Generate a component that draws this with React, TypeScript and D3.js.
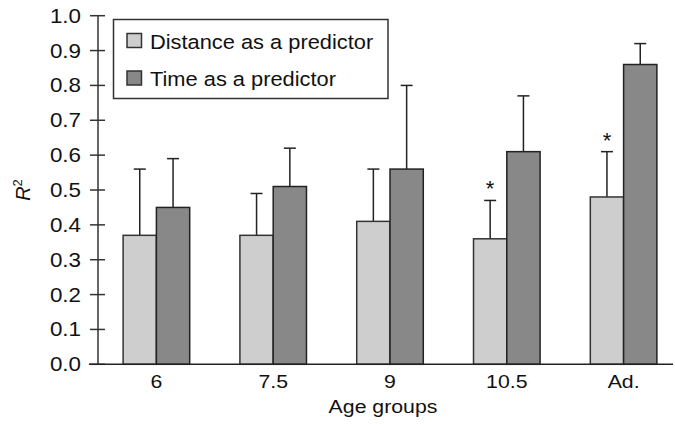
import React from 'react';
import * as d3 from 'd3';

const groups = ['6', '7.5', '9', '10.5', 'Ad.'];
const distance = [0.37, 0.37, 0.41, 0.36, 0.48];
const distanceErr = [0.56, 0.49, 0.56, 0.47, 0.61];
const time = [0.45, 0.51, 0.56, 0.61, 0.86];
const timeErr = [0.59, 0.62, 0.80, 0.77, 0.92];
const starred = [false, false, false, true, true];
const yTicks = [0, 0.1, 0.2, 0.3, 0.4, 0.5, 0.6, 0.7, 0.8, 0.9, 1.0];
const seriesNames = ['Distance as a predictor', 'Time as a predictor'];

const W = 675;
const H = 424;
const FONT = 'Arial, "Liberation Sans", Helvetica, sans-serif';
const LIGHT = '#cecece';
const DARK = '#888888';
const INK = '#222';
const SX = 1.12; // source text is a little wider than Arial

const Txt = ({ x, y, anchor = 'start', size = 19, children }: any) => (
  <text
    transform={`translate(${x},${y}) scale(${SX},1)`}
    textAnchor={anchor}
    fontSize={size}
    fontFamily={FONT}
    fill="#111"
  >
    {children}
  </text>
);

export default function App() {
  const x = d3.scaleBand().domain(groups).range([98, 682]).paddingInner(0.43).paddingOuter(0.215);
  const y = d3.scaleLinear().domain([0, 1]).range([364.3, 15.7]);
  const bw = x.bandwidth() / 2;
  const cap = 6;

  const errBar = (cx: number, top: number, key: string) => (
    <g key={key} stroke={INK} strokeWidth={1.5}>
      <line x1={cx} x2={cx} y1={y(top)} y2={y(0) - 1} />
      <line x1={cx - cap} x2={cx + cap} y1={y(top)} y2={y(top)} />
    </g>
  );

  return (
    <svg width={W} height={H} style={{ position: 'absolute', left: 0, top: 0 }}>
      <rect width={W} height={H} fill="#fff" />

      {/* y axis */}
      <line x1={98} x2={98} y1={y(1)} y2={y(0)} stroke="#333" strokeWidth={1.5} />
      {yTicks.map(t => (
        <g key={t}>
          <line x1={90} x2={105} y1={y(t)} y2={y(t)} stroke="#333" strokeWidth={1.5} />
          <Txt x={81} y={y(t) + 7} anchor="end" size={20}>{t.toFixed(1)}</Txt>
        </g>
      ))}
      <text
        transform={`translate(30,190) rotate(-90)`}
        textAnchor="middle"
        fontSize={20}
        fontFamily={FONT}
        fill="#111"
      >
        <tspan fontStyle="italic">R</tspan>
        <tspan fontSize={13} dy={-8}>2</tspan>
      </text>

      {/* error bars behind bars */}
      {groups.map((g, i) => errBar(x(g)! + bw / 2, distanceErr[i], 'de' + g))}
      {groups.map((g, i) => errBar(x(g)! + bw * 1.5, timeErr[i], 'te' + g))}

      {/* bars */}
      {groups.map((g, i) => (
        <g key={g}>
          <rect x={x(g)!} y={y(distance[i])} width={bw} height={y(0) - y(distance[i])}
            fill={LIGHT} stroke="#333" strokeWidth={1.5} />
          <rect x={x(g)! + bw} y={y(time[i])} width={bw} height={y(0) - y(time[i])}
            fill={DARK} stroke={INK} strokeWidth={1.5} />
          {starred[i] && (
            <text x={x(g)! + bw / 2} y={y(distanceErr[i]) - 4} textAnchor="middle"
              fontSize={22} fontFamily={FONT} fill="#111">*</text>
          )}
          <Txt x={x(g)! + bw} y={388} anchor="middle">{g}</Txt>
        </g>
      ))}

      {/* x axis */}
      <line x1={89} x2={673} y1={y(0)} y2={y(0)} stroke={INK} strokeWidth={1.5} />
      <Txt x={383} y={413} anchor="middle">Age groups</Txt>

      {/* legend */}
      <rect x={113.5} y={19.5} width={274.5} height={79} fill="#fff" stroke="#333" strokeWidth={1.5} />
      {seriesNames.map((s, i) => (
        <g key={s}>
          <rect x={127} y={33.5 + i * 37.5} width={14.5} height={14}
            fill={i === 0 ? LIGHT : DARK} stroke="#333" strokeWidth={1.5} />
          <Txt x={150} y={48.5 + i * 37.5} size={19.5}>{s}</Txt>
        </g>
      ))}
    </svg>
  );
}
